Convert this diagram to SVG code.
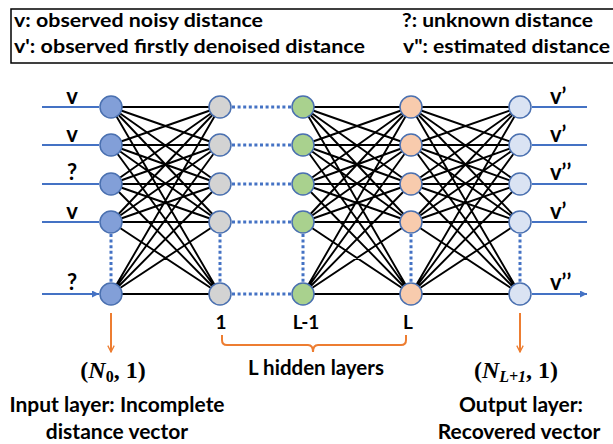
<svg xmlns="http://www.w3.org/2000/svg" width="613" height="444" viewBox="0 0 613 444">
<defs>
<style>
.t{font-family:Lato,"Liberation Sans",sans-serif;font-weight:bold;fill:#000}
.m{font-family:"Liberation Serif","DejaVu Serif",serif;font-weight:bold;fill:#000}
.w{stroke:#000;stroke-width:1.9;fill:none}
.dot{stroke:#4472C4;stroke-width:3;stroke-dasharray:3 2.6;fill:none}
.ar{stroke:#4472C4;stroke-width:2;fill:none}
.or{stroke:#ED7D31;stroke-width:2;fill:none}
.n{stroke:#4A70B0;stroke-width:1.5}
.in{fill:#829FD8}.h1{fill:#D3D3D3}.h2{fill:#A9D18E}.h3{fill:#F8CBAD}.out{fill:#DAE3F3}
</style>
<marker id="ab" viewBox="0 0 10 10" refX="10" refY="5" markerWidth="7" markerHeight="7" orient="auto" markerUnits="userSpaceOnUse"><path d="M0,0 L10,5 L0,10 z" fill="#4472C4"/></marker>
<marker id="ao" viewBox="0 0 10 10" refX="9" refY="5" markerWidth="8" markerHeight="8" orient="auto" markerUnits="userSpaceOnUse"><path d="M1,1 L9,5 L1,9" fill="none" stroke="#ED7D31" stroke-width="1.6"/></marker>
</defs>
<rect width="613" height="444" fill="#fff"/>
<g id="legend">
<rect x="11" y="9" width="610" height="54" fill="none" stroke="#000" stroke-width="1.5"/>
<text class="t" x="14" y="27" font-size="19.5" textLength="249" lengthAdjust="spacingAndGlyphs">v: observed noisy distance</text>
<text class="t" x="14" y="53" font-size="19.5" textLength="351" lengthAdjust="spacingAndGlyphs">v': observed firstly denoised distance</text>
<text class="t" x="402" y="27" font-size="19.5" textLength="191" lengthAdjust="spacingAndGlyphs">?: unknown distance</text>
<text class="t" x="403" y="53" font-size="19.5" textLength="207" lengthAdjust="spacingAndGlyphs">v": estimated distance</text>
</g>
<g id="connectors">
<g id="weights1">
<path class="w" d="M111,107L220,107M111,107L220,145M111,107L220,184M111,107L220,222M111,107L220,294
M111,145L220,107M111,145L220,145M111,145L220,184M111,145L220,222M111,145L220,294
M111,184L220,107M111,184L220,145M111,184L220,184M111,184L220,222M111,184L220,294
M111,222L220,107M111,222L220,145M111,222L220,184M111,222L220,222M111,222L220,294
M111,294L220,107M111,294L220,145M111,294L220,184M111,294L220,222M111,294L220,294"/>
</g>
<g id="weights2">
<path class="w" d="M303,107L411,107M303,107L411,145M303,107L411,184M303,107L411,222M303,107L411,294
M303,145L411,107M303,145L411,145M303,145L411,184M303,145L411,222M303,145L411,294
M303,184L411,107M303,184L411,145M303,184L411,184M303,184L411,222M303,184L411,294
M303,222L411,107M303,222L411,145M303,222L411,184M303,222L411,222M303,222L411,294
M303,294L411,107M303,294L411,145M303,294L411,184M303,294L411,222M303,294L411,294"/>
</g>
<g id="weights3">
<path class="w" d="M411,107L520,107M411,107L520,145M411,107L520,184M411,107L520,222M411,107L520,294
M411,145L520,107M411,145L520,145M411,145L520,184M411,145L520,222M411,145L520,294
M411,184L520,107M411,184L520,145M411,184L520,184M411,184L520,222M411,184L520,294
M411,222L520,107M411,222L520,145M411,222L520,184M411,222L520,222M411,222L520,294
M411,294L520,107M411,294L520,145M411,294L520,184M411,294L520,222M411,294L520,294"/>
</g>
<path class="dot" d="M232,107H292M232,145H292M232,184H292M232,222H292M232,294H292"/>
<path class="dot" d="M111,234V283M220,234V283M303,234V283M411,234V283M520,234V283"/>
<path class="ar" marker-end="url(#ab)" d="M42,107H99M42,145H99M42,184H99M42,222H99M42,294H99"/>
<path class="ar" marker-end="url(#ab)" d="M532,107H587M532,145H587M532,184H587M532,222H587M532,294H587"/>
<path class="or" marker-end="url(#ao)" d="M111,313V352"/>
<path class="or" marker-end="url(#ao)" d="M520,313V352"/>
<path class="or" d="M222,335v5q0,5 5,5H308q5,0 5,7q0,-7 5,-7H401q5,0 5,-5v-5"/>
</g>
<g id="input-layer">
<circle class="n in" cx="111" cy="107" r="11"/>
<circle class="n in" cx="111" cy="145" r="11"/>
<circle class="n in" cx="111" cy="184" r="11"/>
<circle class="n in" cx="111" cy="222" r="11"/>
<circle class="n in" cx="111" cy="294" r="11"/>
</g>
<g id="hidden-1">
<circle class="n h1" cx="220" cy="107" r="11"/>
<circle class="n h1" cx="220" cy="145" r="11"/>
<circle class="n h1" cx="220" cy="184" r="11"/>
<circle class="n h1" cx="220" cy="222" r="11"/>
<circle class="n h1" cx="220" cy="294" r="11"/>
</g>
<g id="hidden-L-1">
<circle class="n h2" cx="303" cy="107" r="11"/>
<circle class="n h2" cx="303" cy="145" r="11"/>
<circle class="n h2" cx="303" cy="184" r="11"/>
<circle class="n h2" cx="303" cy="222" r="11"/>
<circle class="n h2" cx="303" cy="294" r="11"/>
</g>
<g id="hidden-L">
<circle class="n h3" cx="411" cy="107" r="11"/>
<circle class="n h3" cx="411" cy="145" r="11"/>
<circle class="n h3" cx="411" cy="184" r="11"/>
<circle class="n h3" cx="411" cy="222" r="11"/>
<circle class="n h3" cx="411" cy="294" r="11"/>
</g>
<g id="output-layer">
<circle class="n out" cx="520" cy="107" r="11"/>
<circle class="n out" cx="520" cy="145" r="11"/>
<circle class="n out" cx="520" cy="184" r="11"/>
<circle class="n out" cx="520" cy="222" r="11"/>
<circle class="n out" cx="520" cy="294" r="11"/>
</g>
<g id="labels" class="t" font-size="22">
<text x="72" y="104" text-anchor="middle">v</text>
<text x="72" y="142" text-anchor="middle">v</text>
<text x="72" y="180" text-anchor="middle">?</text>
<text x="72" y="219" text-anchor="middle">v</text>
<text x="72" y="290" text-anchor="middle">?</text>
<text x="550" y="104">v’</text>
<text x="550" y="142">v’</text>
<text x="550" y="180">v’’</text>
<text x="550" y="219">v’</text>
<text x="550" y="290">v’’</text>
<text x="221" y="329" text-anchor="middle" font-size="19">1</text>
<text x="306" y="329" text-anchor="middle" font-size="19">L-1</text>
<text x="408" y="329" text-anchor="middle" font-size="19">L</text>
<text x="316" y="375" text-anchor="middle" font-size="20.5">L hidden layers</text>
<text x="117" y="412" text-anchor="middle" font-size="21">Input layer: Incomplete</text>
<text x="117" y="439" text-anchor="middle" font-size="21">distance vector</text>
<text x="521" y="412" text-anchor="middle" font-size="21">Output layer:</text>
<text x="519" y="439" text-anchor="middle" font-size="21">Recovered vector</text>
</g>
<g id="math" class="m" font-size="24">
<text x="113" y="378" text-anchor="middle">(<tspan font-style="italic">N</tspan><tspan font-size="16" dy="4">0</tspan><tspan dy="-4">, 1)</tspan></text>
<text x="516" y="378" text-anchor="middle">(<tspan font-style="italic">N</tspan><tspan font-size="16" font-style="italic" dy="4">L+1</tspan><tspan dy="-4">, 1)</tspan></text>
</g>
</svg>
